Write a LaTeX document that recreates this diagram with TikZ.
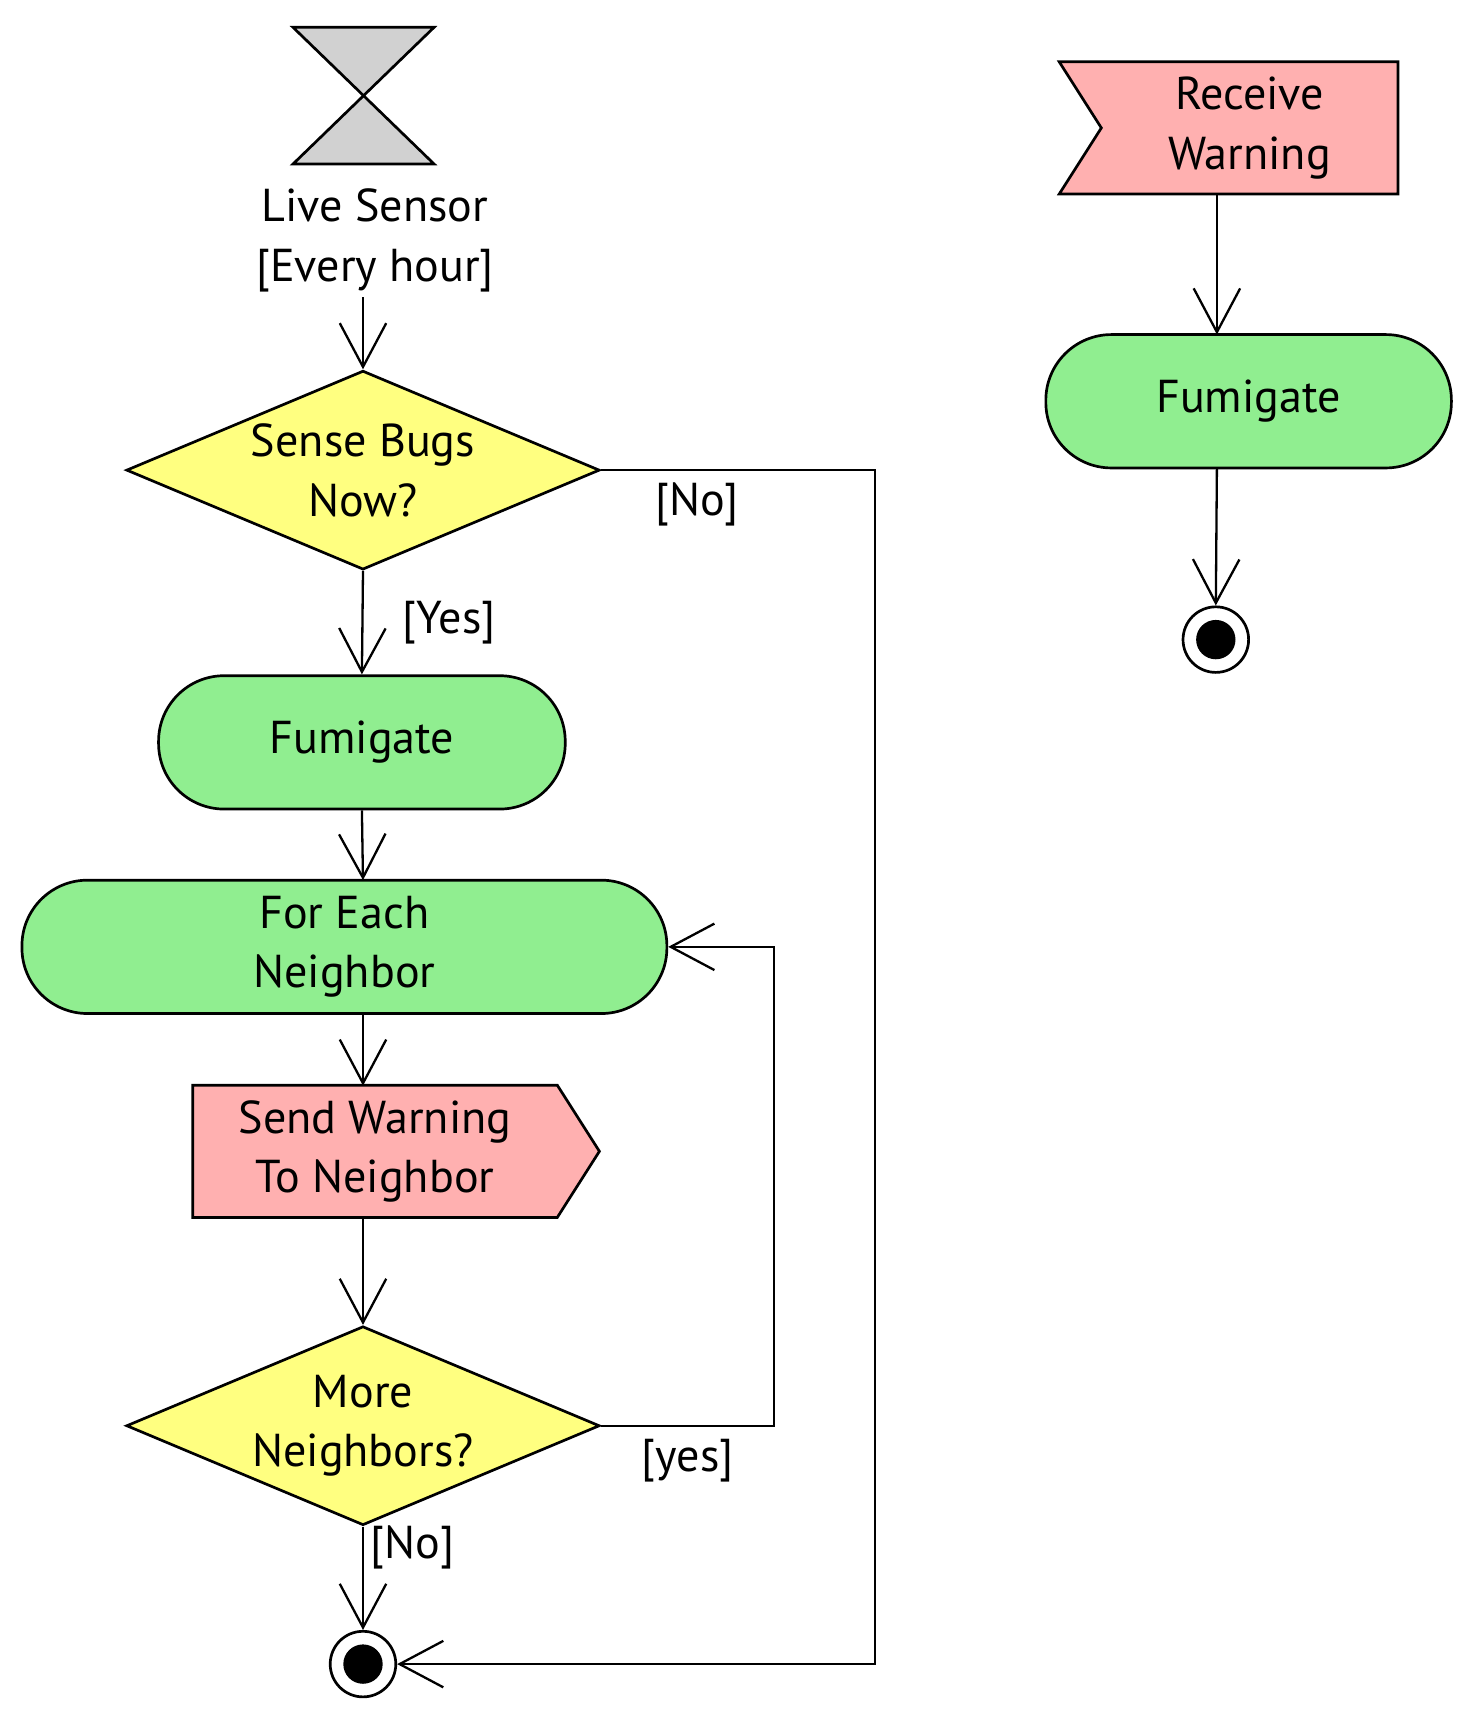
\documentclass[tikz,border=0pt]{standalone}
\usepackage{fontspec}
\setmainfont{PT Sans}
\usetikzlibrary{shapes.geometric,shapes.symbols,arrows.meta}
\definecolor{actgreen}{RGB}{144,238,144}
\definecolor{decyellow}{RGB}{255,255,128}
\definecolor{sigred}{RGB}{255,176,176}

\begin{document}
\begin{tikzpicture}[
    x=0.02cm, y=-0.02cm,
    font=\fontsize{24}{31}\selectfont,
    every node/.style={align=center},
    flow/.style={draw, line width=1.2pt, -{Straight Barb[length=0.8cm, width=0.85cm, line width=1.2pt]}},
    action/.style={rectangle, draw, line width=1.4pt, fill=actgreen, rounded corners=1.2cm, minimum height=2.44cm},
    decision/.style={diamond, draw, line width=1.4pt, fill=decyellow, aspect=2.38, inner sep=0pt, minimum width=8.66cm, minimum height=3.64cm},
    signal/.style={shape=signal, draw, line width=1.4pt, fill=sigred, signal pointer angle=115, minimum height=2.42cm, inner sep=0pt},
    final/.style={circle, draw, line width=1.4pt, fill=white, minimum size=1.2cm, inner sep=0pt},
    dot/.style={circle, fill=black, minimum size=0.72cm, inner sep=0pt}
]
\useasboundingbox (0,0) rectangle (1350,1564);

% timer event
\draw[line width=1.4pt, fill=gray!110!black!40] (268,25) -- (397,25) -- (268,150) -- (397,150) -- cycle;
\node (timer) at (343,220) {Live Sensor\\{}[Every hour]};
\coordinate (timerout) at (332,272);

% main flow
\node[decision, label={[align=center]center:Sense Bugs\\Now?}] (bugs) at (332,430) {};
\node[action, minimum width=7.44cm] (fum) at (331,679) {Fumigate};
\node[action, minimum width=11.8cm] (each) at (315,866) {For Each\\Neighbor};
\node[signal, signal to=east, minimum width=7.44cm] (send) at (343,1053) {Send Warning\\To Neighbor};
\node[decision, label={[align=center]center:More\\Neighbors?}] (more) at (332,1304) {};
\node[final] (end) at (332,1522) {};
\node[dot] at (end) {};

\draw[flow] (timerout) -- (bugs.north);
\draw[flow] (bugs.south) -- node[right, xshift=0.6cm] {[Yes]} (fum.north);
\draw[flow] (fum.south) -- (332,805);
\draw[flow] (332,927) -- (332,993);
\draw[flow] (332,1113) -- (more.north);
\draw[flow] (more.south) -- node[right, pos=0.2] {[No]} (end.north);
\draw[flow] (more.east) -- node[below, pos=0.5, yshift=-0.1cm] {[yes]} (708,1304) |- (each.east);
\draw[flow] (bugs.east) -- node[below, pos=0.35, yshift=-0.1cm] {[No]} (800,430) |- (end.east);

% receive flow
\node[signal, signal from=west, signal to=nowhere, minimum width=6.2cm] (recv) at (1143,117) {Receive\\Warning};
\node[action, minimum width=7.42cm] (fum2) at (1142,367) {Fumigate};
\node[final] (end2) at (1112,585) {};
\node[dot] at (end2) {};

\draw[flow] (1113,178) -- (1113,306);
\draw[flow] (1113,428) -- (end2.north);
\end{tikzpicture}
\end{document}
